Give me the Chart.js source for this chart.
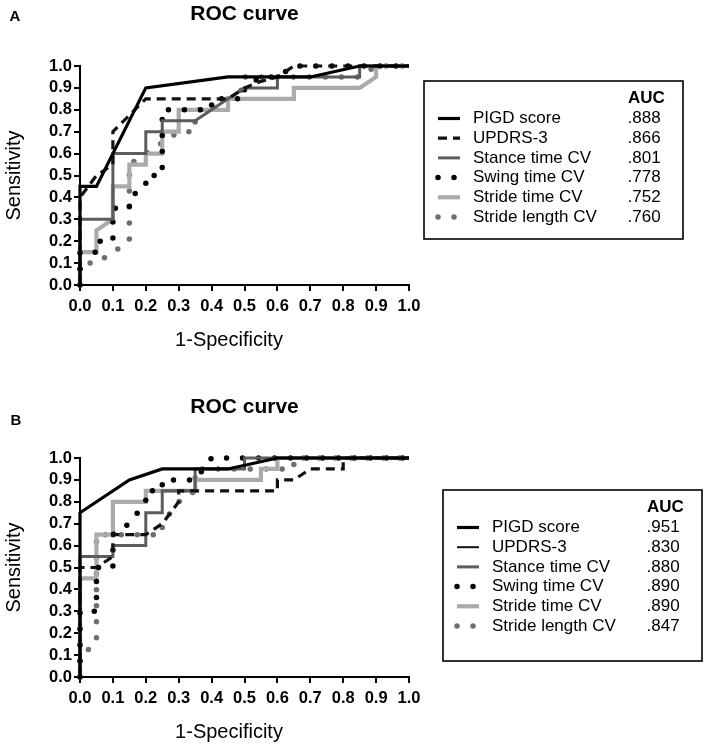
<!DOCTYPE html>
<html>
<head>
<meta charset="utf-8">
<script src="https://cdn.jsdelivr.net/npm/chart.js@4"></script>
<style>
    html, body { margin: 0; padding: 0; background: #fff; }
    canvas { position: absolute; left: 0; }
    #roc-a { top: 0; }
    #roc-b { top: 392px; }
</style>
</head>
<body>
<canvas id="roc-a" width="708" height="392"></canvas>
<canvas id="roc-b" width="708" height="357"></canvas>
<script>
// ── Data (x = 1-specificity, y = sensitivity) ──────────────────────────────

const SERIES = ['PIGD score', 'UPDRS-3', 'Stance time CV', 'Swing time CV', 'Stride time CV', 'Stride length CV'];
const TICKS = [0, 0.1, 0.2, 0.3, 0.4, 0.5, 0.6, 0.7, 0.8, 0.9, 1.0];

// Panel A
const AUC_A = ['.888', '.866', '.801', '.778', '.752', '.760'];
const A_PIGD_X    = [0, 0, 0.05, 0.2, 0.45, 0.7, 0.85, 1];
const A_PIGD_Y    = [0, 0.45, 0.45, 0.9, 0.95, 0.95, 1, 1];
const A_UPDRS_X   = [0, 0, 0.05, 0.1, 0.1, 0.2, 0.45, 0.5, 0.55, 0.6, 0.65, 1];
const A_UPDRS_Y   = [0, 0.4, 0.5, 0.55, 0.7, 0.85, 0.85, 0.9, 0.93, 0.95, 1, 1];
const A_STANCE_X  = [0, 0, 0.1, 0.1, 0.2, 0.2, 0.25, 0.25, 0.35, 0.4, 0.45, 0.5, 0.6, 0.6, 0.85, 0.85, 1];
const A_STANCE_Y  = [0, 0.3, 0.3, 0.6, 0.6, 0.7, 0.7, 0.75, 0.75, 0.8, 0.85, 0.9, 0.9, 0.95, 0.95, 1, 1];
const A_SWING_X   = [0, 0, 0.05, 0.05, 0.1, 0.1, 0.15, 0.15, 0.2, 0.2, 0.25, 0.25, 0.4, 0.4, 0.5, 0.5, 0.55, 0.6, 0.65, 1];
const A_SWING_Y   = [0, 0.15, 0.15, 0.2, 0.2, 0.35, 0.35, 0.4, 0.45, 0.5, 0.5, 0.8, 0.8, 0.85, 0.85, 0.9, 0.95, 0.95, 1, 1];
const A_STRIDE_X  = [0, 0, 0.05, 0.05, 0.1, 0.1, 0.15, 0.15, 0.2, 0.2, 0.25, 0.25, 0.3, 0.3, 0.45, 0.45, 0.65, 0.65, 0.85, 0.9, 0.9, 1];
const A_STRIDE_Y  = [0, 0.15, 0.15, 0.25, 0.3, 0.45, 0.45, 0.55, 0.55, 0.6, 0.6, 0.7, 0.7, 0.8, 0.8, 0.85, 0.85, 0.9, 0.9, 0.95, 1, 1];
const A_LENGTH_X  = [0, 0, 0.05, 0.1, 0.15, 0.15, 0.2, 0.25, 0.3, 0.35, 0.35, 0.4, 0.45, 0.5, 0.5, 0.85, 0.9, 1];
const A_LENGTH_Y  = [0, 0.1, 0.1, 0.15, 0.2, 0.55, 0.6, 0.65, 0.7, 0.7, 0.8, 0.8, 0.85, 0.9, 0.95, 0.95, 1, 1];

// Panel B
const AUC_B = ['.951', '.830', '.880', '.890', '.890', '.847'];
const B_PIGD_X    = [0, 0, 0.15, 0.25, 0.45, 0.6, 1];
const B_PIGD_Y    = [0, 0.75, 0.9, 0.95, 0.95, 1, 1];
const B_UPDRS_X   = [0, 0, 0.05, 0.1, 0.1, 0.2, 0.25, 0.3, 0.3, 0.6, 0.6, 0.65, 0.7, 0.8, 0.8, 1];
const B_UPDRS_Y   = [0, 0.5, 0.5, 0.55, 0.65, 0.65, 0.7, 0.8, 0.85, 0.85, 0.9, 0.9, 0.95, 0.95, 1, 1];
const B_STANCE_X  = [0, 0, 0.1, 0.1, 0.2, 0.2, 0.25, 0.25, 0.35, 0.35, 0.5, 0.5, 1];
const B_STANCE_Y  = [0, 0.55, 0.55, 0.6, 0.6, 0.75, 0.75, 0.85, 0.85, 0.95, 0.95, 1, 1];
const B_SWING_X   = [0, 0, 0.05, 0.05, 0.1, 0.1, 0.15, 0.2, 0.2, 0.25, 0.25, 0.35, 0.4, 1];
const B_SWING_Y   = [0, 0.3, 0.3, 0.5, 0.5, 0.65, 0.7, 0.8, 0.85, 0.85, 0.9, 0.9, 1, 1];
const B_STRIDE_X  = [0, 0, 0.05, 0.05, 0.1, 0.1, 0.2, 0.2, 0.35, 0.35, 0.55, 0.55, 0.6, 0.6, 1];
const B_STRIDE_Y  = [0, 0.45, 0.45, 0.65, 0.65, 0.8, 0.8, 0.85, 0.85, 0.9, 0.9, 0.95, 0.95, 1, 1];
const B_LENGTH_X  = [0, 0, 0.05, 0.05, 0.25, 0.25, 0.3, 0.35, 0.35, 0.65, 0.65, 1];
const B_LENGTH_Y  = [0, 0.1, 0.15, 0.65, 0.65, 0.7, 0.8, 0.85, 0.95, 0.95, 1, 1];

// ── Styles ─────────────────────────────────────────────────────────────────

const FONT = "'Liberation Sans', Arial, sans-serif";
Chart.defaults.font.family = FONT;
Chart.defaults.color = '#000';

// one entry per series, same order as SERIES
const LINE_STYLES = [
    { color: '#000000', width: 3.2, dash: [] },                       // PIGD
    { color: '#111111', width: 3.2, dash: [9, 6] },                   // UPDRS-3
    { color: '#5c5c5c', width: 3,   dash: [] },                       // stance
    { color: '#000000', width: 5.5, dash: [0, 16], cap: 'round' },    // swing (dots)
    { color: '#ababab', width: 4.2, dash: [] },                       // stride time
    { color: '#6e6e6e', width: 5.5, dash: [0, 16], cap: 'round' },    // stride length (dots)
];

const zip = (xs, ys) => xs.map((x, i) => ({ x, y: ys[i] }));

// ── Plugins ────────────────────────────────────────────────────────────────

// Boxed legend with an AUC column
const aucLegend = {
    id: 'aucLegend',
    afterDraw(chart, args, opts) {
        const { ctx } = chart;
        const { left, top, width, height, auc, sampleOverride = {} } = opts;
        ctx.save();
        ctx.strokeStyle = '#000';
        ctx.lineWidth = 1.6;
        ctx.strokeRect(left, top, width, height);

        ctx.fillStyle = '#000';
        ctx.textBaseline = 'middle';
        ctx.textAlign = 'left';
        ctx.font = `bold 17px ${FONT}`;
        ctx.fillText('AUC', left + 204, top + 17);

        chart.data.datasets.forEach((ds, i) => {
            const y = top + 37.5 + i * 19.7;
            const st = { ...LINE_STYLES[i], ...(sampleOverride[i] || {}) };
            ctx.save();
            ctx.strokeStyle = st.color;
            ctx.lineWidth = st.width;
            ctx.lineCap = st.cap || 'butt';
            ctx.setLineDash(st.dash);
            ctx.beginPath();
            ctx.moveTo(left + 14, y);
            ctx.lineTo(left + 36, y);
            ctx.stroke();
            ctx.restore();

            ctx.font = `17px ${FONT}`;
            ctx.fillText(ds.label, left + 49, y);
            ctx.fillText(auc[i], left + 203.5, y);
        });
        ctx.restore();
    },
};

// Panel letter and x-axis title
const panelText = {
    id: 'panelText',
    afterDraw(chart, args, opts) {
        const { ctx } = chart;
        ctx.save();
        ctx.fillStyle = '#000';
        ctx.textBaseline = 'middle';
        ctx.textAlign = 'center';
        ctx.font = `bold 15px ${FONT}`;
        ctx.fillText(opts.letter, opts.letterX, opts.letterY);
        ctx.font = `20px ${FONT}`;
        ctx.fillText('1-Specificity', 229, 340);
        ctx.restore();
    },
};

// ── Chart builder ──────────────────────────────────────────────────────────

function makeRoc(canvasId, seriesXY, legendOpts, textOpts) {
    const canvas = document.getElementById(canvasId);
    const xAxisHeight = canvas.height - 285;

    const datasets = seriesXY.map(([xs, ys], i) => {
        const st = LINE_STYLES[i];
        return {
            label: SERIES[i],
            data: zip(xs, ys),
            borderColor: st.color,
            borderWidth: st.width,
            borderDash: st.dash,
            borderCapStyle: st.cap || 'butt',
            borderJoinStyle: 'miter',
            pointRadius: 0,
            tension: 0,
            fill: false,
            clip: false,
        };
    });

    const axisCommon = {
        type: 'linear',
        min: 0,
        max: 1,
        border: { display: true, color: '#000', width: 2 },
        grid: { drawOnChartArea: false, drawTicks: true, tickLength: 6, color: '#000', lineWidth: 2 },
        afterBuildTicks: (scale) => { scale.ticks = TICKS.map(v => ({ value: v })); },
    };

    return new Chart(canvas, {
        type: 'line',
        data: { datasets },
        options: {
            responsive: false,
            animation: false,
            layout: { padding: { top: 0, left: 0, right: 299, bottom: 0 } },
            plugins: {
                legend: { display: false },
                tooltip: { enabled: false },
                title: {
                    display: true,
                    text: 'ROC curve',
                    fullSize: false,
                    font: { size: 21, weight: 'bold' },
                    color: '#000',
                    padding: { top: textOpts.titleTop, bottom: 66 - textOpts.titleTop - 25.2 },
                },
                aucLegend: legendOpts,
                panelText: textOpts,
            },
            scales: {
                x: {
                    ...axisCommon,
                    ticks: {
                        autoSkip: false,
                        maxRotation: 0,
                        padding: 6,
                        font: { size: 16.5, weight: 'bold' },
                        color: '#000',
                        callback: (v) => Number(v).toFixed(1),
                    },
                    afterFit: (scale) => { scale.height = xAxisHeight; },
                },
                y: {
                    ...axisCommon,
                    ticks: {
                        autoSkip: false,
                        padding: 2,
                        font: { size: 16.5, weight: 'bold' },
                        color: '#000',
                        callback: (v) => Number(v).toFixed(1),
                    },
                    title: {
                        display: true,
                        text: 'Sensitivity',
                        font: { size: 20 },
                        color: '#000',
                        padding: { top: 2, bottom: 0 },
                    },
                    afterFit: (scale) => { scale.width = 80; },
                },
            },
        },
        plugins: [aucLegend, panelText],
    });
}

makeRoc('roc-a',
    [[A_PIGD_X, A_PIGD_Y], [A_UPDRS_X, A_UPDRS_Y], [A_STANCE_X, A_STANCE_Y],
     [A_SWING_X, A_SWING_Y], [A_STRIDE_X, A_STRIDE_Y], [A_LENGTH_X, A_LENGTH_Y]],
    { left: 424, top: 81, width: 259, height: 158, auc: AUC_A },
    { letter: 'A', letterX: 15, letterY: 17, titleTop: 1.4 });

makeRoc('roc-b',
    [[B_PIGD_X, B_PIGD_Y], [B_UPDRS_X, B_UPDRS_Y], [B_STANCE_X, B_STANCE_Y],
     [B_SWING_X, B_SWING_Y], [B_STRIDE_X, B_STRIDE_Y], [B_LENGTH_X, B_LENGTH_Y]],
    { left: 443, top: 98, width: 259, height: 171, auc: AUC_B,
      sampleOverride: { 1: { dash: [], width: 2 } } },
    { letter: 'B', letterX: 16, letterY: 29, titleTop: 2.4 });
</script>
</body>
</html>
